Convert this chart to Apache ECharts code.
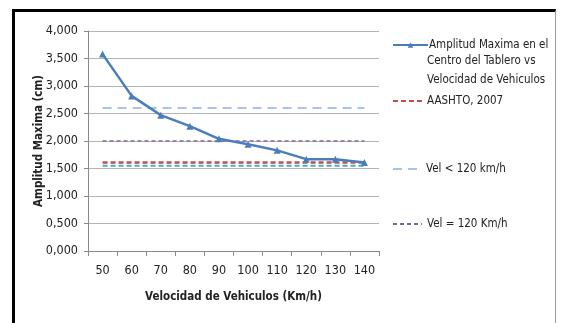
<!DOCTYPE html>
<html><head><meta charset="utf-8">
<script src="https://cdn.jsdelivr.net/npm/echarts@6/dist/echarts.min.js"></script>
<style>
html,body{margin:0;padding:0;background:#fff;}
#frame{position:absolute;left:12px;top:9px;width:540px;height:330px;border-left:3px solid #000;border-top:3px solid #000;border-right:1px solid #9a9a9a;}
#c{position:absolute;left:0;top:0;width:561px;height:323px;}
</style></head>
<body>
<div id="frame"></div>
<div id="c"></div>
<script>
const categories = ['50','60','70','80','90','100','110','120','130','140'];
const amplitud = [3.58, 2.82, 2.47, 2.27, 2.04, 1.94, 1.83, 1.67, 1.67, 1.61];
const aashto = 1.61;
const velMenor120 = 2.60;
const velIgual120 = 2.00;
const cianLine = 1.55;
const seriesNames = ['Amplitud Maxima en el', 'AASHTO, 2007', 'Vel < 120 km/h', 'Vel = 120 Km/h'];
const legendExtraLines = ['Centro del Tablero vs', 'Velocidad de Vehiculos'];

const FONT = '"DejaVu Sans Condensed", "Liberation Sans Narrow", "Liberation Sans", sans-serif';
const chart = echarts.init(document.getElementById('c'), null, {renderer:'canvas'});
const flat = v => categories.map(() => v);

const legendText = {fontFamily: FONT, fontSize: 11.5, color: '#222', padding: [0,0,0,0]};
const legendBase = {left: 392, itemGap: 0, padding: 0, textStyle: legendText,
  itemHeight: 10, itemStyle: {color: 'rgba(0,0,0,0)', borderWidth: 0}};

chart.setOption({
  animation: false,
  grid: {left: 88, right: 182, top: 31, bottom: 72},
  xAxis: {
    type: 'category', data: categories, boundaryGap: true,
    name: 'Velocidad de Vehiculos (Km/h)', nameLocation: 'middle', nameGap: 40,
    nameTextStyle: {fontFamily: FONT, fontWeight: 'bold', fontSize: 11.5, color: '#222'},
    axisLine: {lineStyle: {color: '#8a8a8a', width: 1}},
    axisTick: {show: true, length: 5, lineStyle: {color: '#8a8a8a'}},
    axisLabel: {interval: 0, fontFamily: FONT, fontSize: 12.5, color: '#222', margin: 13}
  },
  yAxis: {
    type: 'value', min: 0, max: 4, interval: 0.5,
    name: 'Amplitud Maxima (cm)', nameLocation: 'middle', nameGap: 43, nameRotate: 90,
    nameMoveOverlap: false,
    nameTextStyle: {fontFamily: FONT, fontWeight: 'bold', fontSize: 11.5, color: '#222'},
    axisLine: {show: true, lineStyle: {color: '#8a8a8a', width: 1}},
    axisTick: {show: true, length: 4, lineStyle: {color: '#8a8a8a'}},
    axisLabel: {fontFamily: FONT, fontSize: 12.5, color: '#222', margin: 10,
      formatter: v => v.toFixed(3).replace('.', ',')},
    splitLine: {lineStyle: {color: '#b4b4b4', width: 1.2}}
  },
  legend: [
    Object.assign({}, legendBase, {top: 39, itemWidth: 35, itemHeight: 7, itemStyle: {},
      textStyle: Object.assign({}, legendText, {padding: [0,0,0,-4]}), data: [seriesNames[0]]}),
    Object.assign({}, legendBase, {top: 95, itemWidth: 29, data: [seriesNames[1]]}),
    Object.assign({}, legendBase, {top: 163, itemWidth: 25, textStyle: Object.assign({}, legendText, {padding:[0,0,0,3]}), data: [seriesNames[2]]}),
    Object.assign({}, legendBase, {top: 218, itemWidth: 29, data: [seriesNames[3]]})
  ],
  graphic: legendExtraLines.map((t, i) => ({
    type: 'text', left: 427, top: 55 + i * 19,
    style: {text: t, fontFamily: FONT, fontSize: 11.5, fill: '#222'}
  })),
  series: [
    {name: seriesNames[2], type: 'line', data: flat(velMenor120), symbol: 'none', z: 1,
      lineStyle: {color: '#a9c4e8', width: 2, type: [9, 6]}, itemStyle: {color: '#a9c4e8'}},
    {name: seriesNames[3], type: 'line', data: flat(velIgual120), symbol: 'none', z: 1,
      lineStyle: {color: '#8064a2', width: 1.5, type: [4, 3]}, itemStyle: {color: '#8064a2'}},
    {name: 'cian', type: 'line', data: flat(cianLine), symbol: 'none', z: 1,
      lineStyle: {color: '#4bacc6', width: 2, type: [5, 3]}, itemStyle: {color: '#4bacc6'}},
    {name: seriesNames[1], type: 'line', data: flat(aashto), symbol: 'none', z: 1,
      lineStyle: {color: '#c0504d', width: 2.5, type: [5, 3]}, itemStyle: {color: '#c0504d'}},
    {name: seriesNames[0], type: 'line', data: amplitud, symbol: 'triangle', symbolSize: 7, z: 5,
      lineStyle: {color: '#4a7ebb', width: 2.5}, itemStyle: {color: '#4a7ebb'}}
  ]
});
</script>
</body></html>
